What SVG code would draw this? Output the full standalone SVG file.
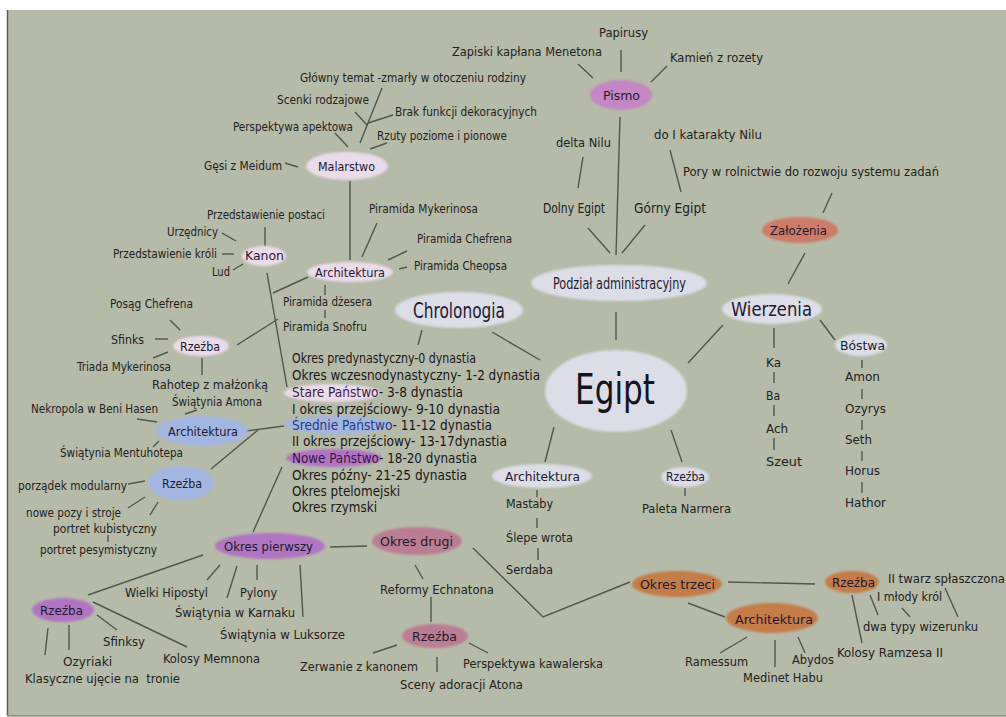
<svg xmlns="http://www.w3.org/2000/svg" width="1006" height="717" viewBox="0 0 1006 717">
<defs>
<filter id="soft" x="-10%" y="-20%" width="120%" height="140%"><feGaussianBlur stdDeviation="0.9"/></filter>
<style>
text{font-family:"DejaVu Sans Condensed","DejaVu Sans",sans-serif;fill:#222222;}
.l{font-size:12px;}
.n{font-size:13px;fill:#1e1a30;}
.c{font-size:13.5px;fill:#181818;}
.con line,.con polyline{stroke:#4f574f;stroke-width:1.4;fill:none;}
.gray{fill:#dcdde7;}
.pink{fill:#eadbea;}
.blue{fill:#a3b6e2;}
.purple{fill:#b074c2;}
.pismo{fill:#c586c4;}
.mauve{fill:#bb7d93;}
.orange{fill:#c47c4a;}
.zal{fill:#cc7c68;}
ellipse{filter:url(#soft);}
</style>
</defs>
<rect x="0" y="0" width="1006" height="717" fill="#ffffff"/>
<rect x="7" y="10" width="999" height="707" fill="#b6baa8"/>
<line x1="7.5" y1="10" x2="7.5" y2="716" stroke="#5a5f55" stroke-width="1.5"/>
<line x1="7" y1="715.5" x2="1006" y2="715.5" stroke="#8d9183" stroke-width="1"/>

<g id="connectors" class="con">
<line x1="621" y1="50" x2="621" y2="72"/>
<line x1="578" y1="64" x2="593" y2="78"/>
<line x1="667" y1="66" x2="651" y2="82"/>
<line x1="620" y1="117" x2="616" y2="255"/>
<line x1="583" y1="157" x2="578" y2="188"/>
<line x1="670" y1="150" x2="681" y2="192"/>
<line x1="588" y1="228" x2="610" y2="253"/>
<line x1="645" y1="225" x2="622" y2="253"/>
<line x1="832" y1="193" x2="823" y2="213"/>
<line x1="805" y1="253" x2="788" y2="284"/>
<line x1="616" y1="312" x2="616" y2="340"/>
<line x1="723" y1="325" x2="688" y2="363"/>
<line x1="820" y1="320" x2="835" y2="340"/>
<line x1="774" y1="328" x2="774" y2="348"/>
<line x1="774" y1="372" x2="774" y2="383"/>
<line x1="774" y1="405" x2="774" y2="416"/>
<line x1="774" y1="438" x2="774" y2="450"/>
<line x1="862" y1="360" x2="862" y2="368"/>
<line x1="862" y1="389" x2="862" y2="399"/>
<line x1="862" y1="420" x2="862" y2="430"/>
<line x1="862" y1="451" x2="862" y2="461"/>
<line x1="862" y1="482" x2="862" y2="493"/>
<line x1="492" y1="332" x2="540" y2="360"/>
<line x1="422" y1="330" x2="418" y2="345"/>
<line x1="554" y1="427" x2="545" y2="462"/>
<line x1="671" y1="430" x2="682" y2="462"/>
<line x1="537" y1="490" x2="537" y2="497"/>
<line x1="537" y1="518" x2="537" y2="528"/>
<line x1="538" y1="548" x2="538" y2="560"/>
<line x1="685" y1="488" x2="685" y2="496"/>
<line x1="382" y1="88" x2="360" y2="143"/>
<line x1="355" y1="112" x2="367" y2="125"/>
<line x1="393" y1="115" x2="368" y2="123"/>
<line x1="335" y1="133" x2="348" y2="147"/>
<line x1="387" y1="143" x2="370" y2="149"/>
<line x1="285" y1="163" x2="298" y2="167"/>
<line x1="350" y1="181" x2="350" y2="260"/>
<line x1="377" y1="223" x2="362" y2="257"/>
<line x1="407" y1="251" x2="388" y2="260"/>
<line x1="399" y1="269" x2="407" y2="267"/>
<line x1="325" y1="285" x2="325" y2="295"/>
<line x1="325" y1="310" x2="325" y2="318"/>
<line x1="265" y1="227" x2="265" y2="246"/>
<line x1="222" y1="233" x2="236" y2="241"/>
<line x1="222" y1="254" x2="234" y2="254"/>
<line x1="233" y1="270" x2="243" y2="264"/>
<line x1="267" y1="273" x2="287" y2="387"/>
<line x1="273" y1="293" x2="308" y2="277"/>
<line x1="237" y1="345" x2="278" y2="319"/>
<line x1="170" y1="320" x2="180" y2="330"/>
<line x1="155" y1="339" x2="168" y2="339"/>
<line x1="153" y1="358" x2="168" y2="352"/>
<line x1="202" y1="358" x2="202" y2="375"/>
<line x1="185" y1="414" x2="197" y2="410"/>
<line x1="137" y1="419" x2="157" y2="422"/>
<line x1="153" y1="447" x2="159" y2="441"/>
<line x1="246" y1="431" x2="284" y2="426"/>
<line x1="211" y1="469" x2="258" y2="430"/>
<line x1="128" y1="484" x2="145" y2="481"/>
<line x1="128" y1="508" x2="145" y2="497"/>
<line x1="150" y1="515" x2="158" y2="502"/>
<line x1="108" y1="535" x2="108" y2="542"/>
<line x1="282" y1="467" x2="253" y2="532"/>
<line x1="330" y1="547" x2="367" y2="546"/>
<polyline points="473,548 543,617 630,582"/>
<line x1="203" y1="555" x2="88" y2="595"/>
<line x1="220" y1="565" x2="207" y2="580"/>
<line x1="237" y1="566" x2="227" y2="598"/>
<line x1="257" y1="565" x2="257" y2="580"/>
<line x1="300" y1="565" x2="303" y2="617"/>
<line x1="97" y1="615" x2="117" y2="630"/>
<line x1="93" y1="602" x2="187" y2="647"/>
<line x1="69" y1="625" x2="69" y2="650"/>
<line x1="48" y1="628" x2="45" y2="655"/>
<line x1="415" y1="565" x2="423" y2="579"/>
<line x1="431" y1="597" x2="431" y2="622"/>
<line x1="397" y1="645" x2="373" y2="653"/>
<line x1="437" y1="657" x2="437" y2="672"/>
<line x1="469" y1="643" x2="488" y2="653"/>
<line x1="728" y1="582" x2="815" y2="584"/>
<line x1="688" y1="603" x2="725" y2="617"/>
<line x1="747" y1="637" x2="720" y2="653"/>
<line x1="775" y1="640" x2="775" y2="667"/>
<line x1="798" y1="637" x2="805" y2="653"/>
<line x1="852" y1="595" x2="862" y2="643"/>
<line x1="870" y1="595" x2="878" y2="615"/>
<line x1="902" y1="608" x2="910" y2="617"/>
<line x1="945" y1="588" x2="958" y2="617"/>
</g>

<g id="egipt"><ellipse class="gray" cx="616" cy="391" rx="71" ry="41"/><text x="575" y="404" font-size="42" textLength="80" lengthAdjust="spacingAndGlyphs" style="fill:#151520">Egipt</text></g>
<g id="podzial"><ellipse class="gray" cx="619" cy="283" rx="88" ry="18"/><text x="553" y="289" font-size="16" textLength="133" lengthAdjust="spacingAndGlyphs" style="fill:#1e1a30">Podział administracyjny</text></g>
<g id="chronologia"><ellipse class="gray" cx="459" cy="310" rx="64" ry="18"/><text x="413" y="318" font-size="21" textLength="92" lengthAdjust="spacingAndGlyphs" style="fill:#1e1a30">Chrolonogia</text></g>
<g id="wierzenia"><ellipse class="gray" cx="772" cy="309" rx="50" ry="15"/><text x="731" y="316" font-size="19" textLength="81" lengthAdjust="spacingAndGlyphs" style="fill:#1e1a30">Wierzenia</text></g>
<g id="zalozenia"><ellipse class="zal" cx="800" cy="230" rx="38" ry="13"/><text class="n" x="770" y="235" textLength="57" lengthAdjust="spacingAndGlyphs">Założenia</text></g>
<g id="pismo"><ellipse class="pismo" cx="621" cy="95" rx="31" ry="15"/><text class="n" x="603" y="100" textLength="37" lengthAdjust="spacingAndGlyphs">Pismo</text></g>
<g id="bostwa"><ellipse class="gray" cx="861" cy="345" rx="26" ry="11"/><text class="n" x="840" y="350" textLength="45" lengthAdjust="spacingAndGlyphs">Bóstwa</text></g>
<g id="architektura-egipt"><ellipse class="gray" cx="542" cy="476" rx="50" ry="12"/><text class="n" x="505" y="481" textLength="75" lengthAdjust="spacingAndGlyphs">Architektura</text></g>
<g id="rzezba-egipt"><ellipse class="gray" cx="685" cy="477" rx="24" ry="10"/><text class="n" x="666" y="481" font-size="12" textLength="39" lengthAdjust="spacingAndGlyphs">Rzeźba</text></g>
<g id="malarstwo"><ellipse class="pink" cx="347" cy="166" rx="41" ry="14"/><text class="n" x="318" y="171" textLength="57" lengthAdjust="spacingAndGlyphs">Malarstwo</text></g>
<g id="kanon"><ellipse class="pink" cx="264" cy="256" rx="22" ry="10"/><text class="n" x="245" y="260" textLength="39" lengthAdjust="spacingAndGlyphs">Kanon</text></g>
<g id="architektura-stare"><ellipse class="pink" cx="350" cy="272" rx="43" ry="10"/><text class="n" x="315" y="277" textLength="70" lengthAdjust="spacingAndGlyphs">Architektura</text></g>
<g id="rzezba-stare"><ellipse class="pink" cx="201" cy="346" rx="28" ry="10"/><text class="n" x="180" y="351" textLength="40" lengthAdjust="spacingAndGlyphs">Rzeźba</text></g>
<g id="architektura-srednie"><ellipse class="blue" cx="202" cy="431" rx="46" ry="15"/><text class="n" x="168" y="436" textLength="70" lengthAdjust="spacingAndGlyphs">Architektura</text></g>
<g id="rzezba-srednie"><ellipse class="blue" cx="181" cy="483" rx="33" ry="17"/><text class="n" x="162" y="488" textLength="40" lengthAdjust="spacingAndGlyphs">Rzeźba</text></g>
<g id="okres-pierwszy"><ellipse class="purple" cx="270" cy="546" rx="55" ry="13"/><text class="n" x="224" y="551" textLength="89" lengthAdjust="spacingAndGlyphs">Okres pierwszy</text></g>
<g id="okres-drugi"><ellipse class="mauve" cx="417" cy="541" rx="45" ry="14"/><text class="n" x="380" y="546" font-size="14" textLength="73" lengthAdjust="spacingAndGlyphs">Okres drugi</text></g>
<g id="rzezba-nowe"><ellipse class="purple" cx="63" cy="610" rx="31" ry="12"/><text class="n" x="40" y="615" textLength="43" lengthAdjust="spacingAndGlyphs">Rzeźba</text></g>
<g id="rzezba-drugi"><ellipse class="mauve" cx="435" cy="636" rx="33" ry="12"/><text class="n" x="412" y="641" font-size="14" textLength="45" lengthAdjust="spacingAndGlyphs">Rzeźba</text></g>
<g id="okres-trzeci"><ellipse class="orange" cx="677" cy="584" rx="45" ry="13"/><text class="n" x="640" y="589" font-size="14" textLength="75" lengthAdjust="spacingAndGlyphs">Okres trzeci</text></g>
<g id="architektura-trzeci"><ellipse class="orange" cx="772" cy="618" rx="46" ry="15"/><text class="n" x="735" y="624" font-size="14" textLength="78" lengthAdjust="spacingAndGlyphs">Architektura</text></g>
<g id="rzezba-trzeci"><ellipse class="orange" cx="852" cy="582" rx="27" ry="11"/><text class="n" x="832" y="587" textLength="43" lengthAdjust="spacingAndGlyphs">Rzeźba</text></g>

<g id="chronologia-lista">
<ellipse class="pink" cx="332" cy="393" rx="48" ry="9"/>
<ellipse class="blue" cx="338" cy="425" rx="53" ry="9"/>
<ellipse class="purple" cx="334" cy="458" rx="48" ry="9"/>
<text class="c" x="292" y="363" textLength="184" lengthAdjust="spacingAndGlyphs">Okres predynastyczny-0 dynastia</text>
<text class="c" x="292" y="380" textLength="248" lengthAdjust="spacingAndGlyphs">Okres wczesnodynastyczny- 1-2 dynastia</text>
<text class="c" x="292" y="397" textLength="171" lengthAdjust="spacingAndGlyphs"><tspan style="fill:#3a2448">Stare Państwo</tspan>- 3-8 dynastia</text>
<text class="c" x="292" y="414" textLength="208" lengthAdjust="spacingAndGlyphs">I okres przejściowy- 9-10 dynastia</text>
<text class="c" x="292" y="430" textLength="200" lengthAdjust="spacingAndGlyphs"><tspan style="fill:#283a80">Średnie Państwo</tspan>- 11-12 dynastia</text>
<text class="c" x="292" y="446" textLength="215" lengthAdjust="spacingAndGlyphs">II okres przejściowy- 13-17dynastia</text>
<text class="c" x="292" y="463" textLength="185" lengthAdjust="spacingAndGlyphs"><tspan style="fill:#3a1448">Nowe Państwo</tspan>- 18-20 dynastia</text>
<text class="c" x="292" y="480" textLength="175" lengthAdjust="spacingAndGlyphs">Okres późny- 21-25 dynastia</text>
<text class="c" x="292" y="496" textLength="108" lengthAdjust="spacingAndGlyphs">Okres ptelomejski</text>
<text class="c" x="292" y="512" textLength="85" lengthAdjust="spacingAndGlyphs">Okres rzymski</text>
</g>

<g id="labels">
<text class="l" x="599" y="37" textLength="49" lengthAdjust="spacingAndGlyphs">Papirusy</text>
<text class="l" x="452" y="56" textLength="150" lengthAdjust="spacingAndGlyphs">Zapiski kapłana Menetona</text>
<text class="l" x="670" y="62" textLength="93" lengthAdjust="spacingAndGlyphs">Kamień z rozety</text>
<text class="l" x="556" y="147" textLength="55" lengthAdjust="spacingAndGlyphs">delta Nilu</text>
<text class="l" x="654" y="139" textLength="108" lengthAdjust="spacingAndGlyphs">do I katarakty Nilu</text>
<text class="l" x="683" y="176" textLength="256" lengthAdjust="spacingAndGlyphs">Pory w rolnictwie do rozwoju systemu zadań</text>
<text x="543" y="213" font-size="14" textLength="62" lengthAdjust="spacingAndGlyphs">Dolny Egipt</text>
<text x="634" y="213" font-size="14" textLength="72" lengthAdjust="spacingAndGlyphs">Górny Egipt</text>
<text class="l" x="766" y="367" textLength="15" lengthAdjust="spacingAndGlyphs">Ka</text>
<text class="l" x="766" y="400" textLength="14" lengthAdjust="spacingAndGlyphs">Ba</text>
<text class="l" x="766" y="433" textLength="22" lengthAdjust="spacingAndGlyphs">Ach</text>
<text class="l" x="766" y="466" textLength="36" lengthAdjust="spacingAndGlyphs">Szeut</text>
<text class="l" x="845" y="381" textLength="35" lengthAdjust="spacingAndGlyphs">Amon</text>
<text class="l" x="845" y="413" textLength="41" lengthAdjust="spacingAndGlyphs">Ozyrys</text>
<text class="l" x="845" y="444" textLength="27" lengthAdjust="spacingAndGlyphs">Seth</text>
<text class="l" x="845" y="475" textLength="35" lengthAdjust="spacingAndGlyphs">Horus</text>
<text class="l" x="845" y="507" textLength="41" lengthAdjust="spacingAndGlyphs">Hathor</text>
<text class="l" x="300" y="82" font-size="11.5" textLength="226" lengthAdjust="spacingAndGlyphs">Główny temat -zmarły w otoczeniu rodziny</text>
<text class="l" x="277" y="104" textLength="92" lengthAdjust="spacingAndGlyphs">Scenki rodzajowe</text>
<text class="l" x="395" y="116" textLength="142" lengthAdjust="spacingAndGlyphs">Brak funkcji dekoracyjnych</text>
<text class="l" x="233" y="131" textLength="120" lengthAdjust="spacingAndGlyphs">Perspektywa apektowa</text>
<text class="l" x="377" y="140" textLength="130" lengthAdjust="spacingAndGlyphs">Rzuty poziome i pionowe</text>
<text class="l" x="204" y="170" textLength="78" lengthAdjust="spacingAndGlyphs">Gęsi z Meidum</text>
<text class="l" x="207" y="219" textLength="118" lengthAdjust="spacingAndGlyphs">Przedstawienie postaci</text>
<text class="l" x="167" y="236" textLength="51" lengthAdjust="spacingAndGlyphs">Urzędnicy</text>
<text class="l" x="113" y="258" textLength="104" lengthAdjust="spacingAndGlyphs">Przedstawienie króli</text>
<text class="l" x="212" y="276" textLength="18" lengthAdjust="spacingAndGlyphs">Lud</text>
<text class="l" x="369" y="213" textLength="109" lengthAdjust="spacingAndGlyphs">Piramida Mykerinosa</text>
<text class="l" x="417" y="243" textLength="95" lengthAdjust="spacingAndGlyphs">Piramida Chefrena</text>
<text class="l" x="414" y="270" textLength="93" lengthAdjust="spacingAndGlyphs">Piramida Cheopsa</text>
<text class="l" x="283" y="306" textLength="89" lengthAdjust="spacingAndGlyphs">Piramida dżesera</text>
<text class="l" x="283" y="331" textLength="84" lengthAdjust="spacingAndGlyphs">Piramida Snofru</text>
<text class="l" x="110" y="308" textLength="83" lengthAdjust="spacingAndGlyphs">Posąg Chefrena</text>
<text class="l" x="111" y="344" textLength="33" lengthAdjust="spacingAndGlyphs">Sfinks</text>
<text class="l" x="77" y="371" textLength="94" lengthAdjust="spacingAndGlyphs">Triada Mykerinosa</text>
<text class="l" x="152" y="389" textLength="116" lengthAdjust="spacingAndGlyphs">Rahotep z małżonką</text>
<text class="l" x="172" y="406" textLength="90" lengthAdjust="spacingAndGlyphs">Świątynia Amona</text>
<text class="l" x="31" y="413" textLength="127" lengthAdjust="spacingAndGlyphs">Nekropola w Beni Hasen</text>
<text class="l" x="60" y="457" textLength="123" lengthAdjust="spacingAndGlyphs">Świątynia Mentuhotepa</text>
<text class="l" x="18" y="490" textLength="109" lengthAdjust="spacingAndGlyphs">porządek modularny</text>
<text class="l" x="26" y="517" textLength="95" lengthAdjust="spacingAndGlyphs">nowe pozy i stroje</text>
<text class="l" x="53" y="533" textLength="104" lengthAdjust="spacingAndGlyphs">portret kubistyczny</text>
<text class="l" x="40" y="554" textLength="117" lengthAdjust="spacingAndGlyphs">portret pesymistyczny</text>
<text class="l" x="506" y="508" textLength="47" lengthAdjust="spacingAndGlyphs">Mastaby</text>
<text class="l" x="506" y="542" textLength="67" lengthAdjust="spacingAndGlyphs">Ślepe wrota</text>
<text class="l" x="506" y="574" textLength="47" lengthAdjust="spacingAndGlyphs">Serdaba</text>
<text class="l" x="642" y="513" textLength="89" lengthAdjust="spacingAndGlyphs">Paleta Narmera</text>
<text class="l" x="125" y="597" textLength="83" lengthAdjust="spacingAndGlyphs">Wielki Hipostyl</text>
<text class="l" x="240" y="597" textLength="37" lengthAdjust="spacingAndGlyphs">Pylony</text>
<text x="175" y="617" font-size="13" textLength="120" lengthAdjust="spacingAndGlyphs">Świątynia w Karnaku</text>
<text x="220" y="639" font-size="13" textLength="125" lengthAdjust="spacingAndGlyphs">Świątynia w Luksorze</text>
<text class="l" x="103" y="646" textLength="42" lengthAdjust="spacingAndGlyphs">Sfinksy</text>
<text class="l" x="163" y="663" textLength="97" lengthAdjust="spacingAndGlyphs">Kolosy Memnona</text>
<text class="l" x="63" y="666" textLength="49" lengthAdjust="spacingAndGlyphs">Ozyriaki</text>
<text x="25" y="683" font-size="13" textLength="155" lengthAdjust="spacingAndGlyphs" xml:space="preserve" style="white-space:pre">Klasyczne ujęcie na  tronie</text>
<text class="l" x="380" y="594" textLength="114" lengthAdjust="spacingAndGlyphs">Reformy Echnatona</text>
<text class="l" x="300" y="671" textLength="118" lengthAdjust="spacingAndGlyphs">Zerwanie z kanonem</text>
<text class="l" x="400" y="689" textLength="123" lengthAdjust="spacingAndGlyphs">Sceny adoracji Atona</text>
<text class="l" x="463" y="668" textLength="140" lengthAdjust="spacingAndGlyphs">Perspektywa kawalerska</text>
<text class="l" x="888" y="583" textLength="117" lengthAdjust="spacingAndGlyphs">II twarz spłaszczona</text>
<text class="l" x="877" y="601" font-size="11" textLength="65" lengthAdjust="spacingAndGlyphs">I młody król</text>
<text class="l" x="863" y="631" textLength="115" lengthAdjust="spacingAndGlyphs">dwa typy wizerunku</text>
<text class="l" x="837" y="657" textLength="106" lengthAdjust="spacingAndGlyphs">Kolosy Ramzesa II</text>
<text class="l" x="685" y="666" textLength="63" lengthAdjust="spacingAndGlyphs">Ramessum</text>
<text class="l" x="743" y="682" textLength="80" lengthAdjust="spacingAndGlyphs">Medinet Habu</text>
<text class="l" x="792" y="664" textLength="42" lengthAdjust="spacingAndGlyphs">Abydos</text>
</g>
</svg>
